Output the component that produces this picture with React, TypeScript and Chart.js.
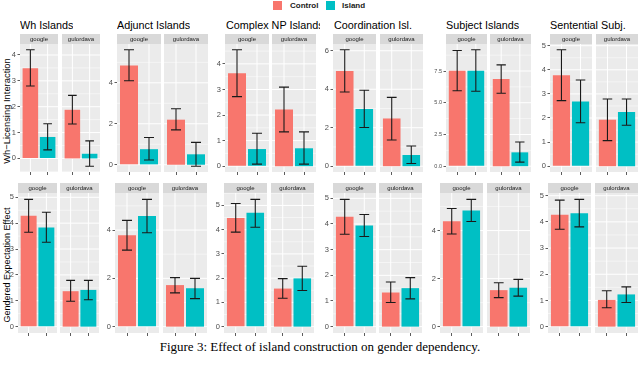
import React, { useEffect, useRef } from "react";
import { Chart, registerables } from "chart.js";
Chart.register(...registerables);

// ---------- data ----------
const FACETS = ["Wh Islands", "Adjunct Islands", "Complex NP Islands", "Coordination Isl.", "Subject Islands", "Sentential Subj."];
const MODELS = ["google", "gulordava"];
const CONDITIONS = ["Control", "Island"];
const ROW_TITLES = ["Wh\u2212Licensing Interaction", "Gendered Expectation Effect"];

// per facet: [google Control, google Island, gulordava Control, gulordava Island]
const WH_MEAN = [
  [3.49, 0.83, 1.88, 0.18],
  [4.84, 0.76, 2.2, 0.51],
  [3.63, 0.67, 2.22, 0.7],
  [4.95, 2.97, 2.48, 0.58],
  [7.53, 7.53, 6.87, 1.09],
  [3.77, 2.68, 1.93, 2.25],
];
const WH_LO = [
  [2.8, 0.33, 1.33, -0.3],
  [4.1, 0.23, 1.7, -0.07],
  [2.72, 0.08, 1.34, 0.08],
  [3.86, 2.01, 1.36, 0.14],
  [5.94, 5.91, 5.75, 0.32],
  [2.72, 1.8, 1.06, 1.7],
];
const WH_HI = [
  [4.2, 1.34, 2.44, 0.68],
  [5.61, 1.33, 2.73, 1.09],
  [4.55, 1.29, 3.09, 1.34],
  [6.05, 3.95, 3.58, 1.05],
  [9.12, 9.17, 7.98, 1.91],
  [4.83, 3.58, 2.79, 2.79],
];
const WH_TICKS = [[0, 1, 2, 3, 4], [0, 2, 4], [0, 1, 2, 3, 4], [0, 2, 4, 6], [0, 2.5, 5, 7.5], [0, 1, 2, 3, 4, 5]];

const GE_MEAN = [
  [4.29, 3.83, 1.37, 1.42],
  [3.78, 4.58, 1.72, 1.59],
  [4.48, 4.7, 1.57, 1.99],
  [4.28, 3.94, 1.33, 1.5],
  [4.39, 4.84, 1.52, 1.62],
  [4.27, 4.33, 1.02, 1.23],
];
const GE_LO = [
  [3.65, 3.26, 0.98, 1.04],
  [3.17, 3.89, 1.4, 1.16],
  [3.9, 4.1, 1.17, 1.49],
  [3.6, 3.51, 0.94, 1.08],
  [3.86, 4.38, 1.21, 1.27],
  [3.72, 3.81, 0.72, 0.92],
];
const GE_HI = [
  [4.92, 4.42, 1.79, 1.79],
  [4.4, 5.27, 2.03, 2.0],
  [5.08, 5.25, 1.98, 2.49],
  [4.96, 4.37, 1.74, 1.91],
  [4.92, 5.3, 1.83, 1.97],
  [4.83, 4.86, 1.37, 1.52],
];
const GE_TICKS = [[0, 1, 2, 3, 4, 5], [0, 2, 4], [0, 1, 2, 3, 4, 5], [0, 1, 2, 3, 4, 5], [0, 2, 4], [0, 1, 2, 3, 4, 5]];

const CAPTION = "Figure 3: Effect of island construction on gender dependency.";

// ---------- style / layout ----------
const CTRL = "#F8766D";
const ISL = "#00BFC4";
const FONT = '"Liberation Sans", Arial, sans-serif';
const STRIP = 10;
const AX = 22;
// [google left, gulordava left, width]
const TOP_X = [[20, 62, 38], [117, 164, 44], [225, 272, 44], [333, 380, 43], [446, 490, 41], [550, 596, 42]];
const BOT_X = [[18, 60, 39], [115, 163, 44], [224, 271, 43], [333, 379, 43], [440, 487, 43], [548, 595, 43]];
const TITLE_X = [20, 117, 226, 334, 446, 550];

function rangeOf(lo: number[], hi: number[]) {
  const a = Math.min(0, ...lo);
  const b = Math.max(0, ...hi);
  const e = (b - a) * 0.05;
  return [a - e, b + e];
}

function minorsOf(ticks: number[], min: number, max: number) {
  const step = ticks[1] - ticks[0];
  const ext = [ticks[0] - step, ...ticks, ticks[ticks.length - 1] + step];
  const out: number[] = [];
  for (let i = 0; i < ext.length - 1; i++) {
    const m = (ext[i] + ext[i + 1]) / 2;
    if (m >= min && m <= max) out.push(m);
  }
  return out;
}

type SubProps = {
  left: number; top: number; w: number; h: number; showY: boolean;
  means: number[]; lo: number[]; hi: number[]; yMin: number; yMax: number;
  ticks: number[]; tickSize: number; decimals: number; strip: string;
};

function SubPanel(p: SubProps) {
  const ref = useRef<HTMLCanvasElement>(null);
  const ax = p.showY ? AX : 0;
  useEffect(() => {
    const minors = minorsOf(p.ticks, p.yMin, p.yMax);
    const plugin = {
      id: "panel" + p.strip,
      beforeDraw(chart: any) {
        const { ctx, chartArea: a, scales } = chart;
        ctx.save();
        ctx.fillStyle = "#EBEBEB";
        ctx.fillRect(a.left, a.top, a.right - a.left, a.bottom - a.top);
        ctx.fillStyle = "#D9D9D9";
        ctx.fillRect(a.left, a.top - STRIP, a.right - a.left, STRIP);
        ctx.fillStyle = "#1A1A1A";
        ctx.font = "6px " + FONT;
        ctx.textAlign = "center";
        ctx.textBaseline = "middle";
        ctx.fillText(p.strip, (a.left + a.right) / 2, a.top - STRIP / 2);
        ctx.strokeStyle = "#FFFFFF";
        ctx.lineWidth = 0.5;
        ctx.beginPath();
        minors.forEach((v) => {
          const y = scales.y.getPixelForValue(v);
          ctx.moveTo(a.left, y);
          ctx.lineTo(a.right, y);
        });
        ctx.stroke();
        ctx.lineWidth = 1;
        ctx.beginPath();
        p.ticks.forEach((v) => {
          const y = scales.y.getPixelForValue(v);
          ctx.moveTo(a.left, y);
          ctx.lineTo(a.right, y);
        });
        [1, 2].forEach((v) => {
          const x = scales.x.getPixelForValue(v);
          ctx.moveTo(x, a.top);
          ctx.lineTo(x, a.bottom);
        });
        ctx.stroke();
        ctx.restore();
      },
      afterDatasetsDraw(chart: any) {
        const { ctx, scales } = chart;
        const meta = chart.getDatasetMeta(0);
        ctx.save();
        ctx.strokeStyle = "#1A1A1A";
        ctx.lineWidth = 1.1;
        meta.data.forEach((el: any, i: number) => {
          const x = el.x;
          const half = (el.width * (0.5 / 0.9)) / 2;
          const y1 = scales.y.getPixelForValue(p.lo[i]);
          const y2 = scales.y.getPixelForValue(p.hi[i]);
          ctx.beginPath();
          ctx.moveTo(x, y1);
          ctx.lineTo(x, y2);
          ctx.moveTo(x - half, y1);
          ctx.lineTo(x + half, y1);
          ctx.moveTo(x - half, y2);
          ctx.lineTo(x + half, y2);
          ctx.stroke();
        });
        ctx.restore();
      },
    };
    const chart = new Chart(ref.current!, {
      type: "bar",
      data: {
        datasets: [
          {
            label: p.strip,
            data: p.means.map((v, i) => ({ x: i + 1, y: v })) as any,
            backgroundColor: [CTRL, ISL],
            borderWidth: 0,
            barPercentage: 0.9,
            categoryPercentage: 1,
          },
        ],
      },
      options: {
        animation: false,
        responsive: false,
        maintainAspectRatio: false,
        devicePixelRatio: 1,
        events: [],
        layout: { padding: { top: STRIP, left: 0, right: 0, bottom: 0 } },
        plugins: { legend: { display: false }, tooltip: { enabled: false } },
        scales: {
          x: {
            type: "linear",
            min: 0.4,
            max: 2.6,
            offset: false,
            grid: { offset: false, drawOnChartArea: false, drawTicks: true, tickLength: 3, tickColor: "#333333", lineWidth: 0.8 },
            border: { display: false },
            ticks: { display: false },
            afterBuildTicks: (s: any) => { s.ticks = [{ value: 1 }, { value: 2 }]; },
            afterFit: (s: any) => { s.height = 4; s.paddingLeft = 0; s.paddingRight = 0; },
          },
          y: {
            type: "linear",
            display: p.showY,
            min: p.yMin,
            max: p.yMax,
            grid: { drawOnChartArea: false, drawTicks: true, tickLength: 2.5, tickColor: "#333333", lineWidth: 0.8 },
            border: { display: false },
            ticks: {
              color: "#4D4D4D",
              padding: 1.5,
              font: { size: p.tickSize, family: FONT },
              callback: (v: any) => Number(v).toFixed(p.decimals),
            },
            afterBuildTicks: (s: any) => { s.ticks = p.ticks.map((v) => ({ value: v })); },
            afterFit: (s: any) => { s.width = ax; s.paddingTop = 0; s.paddingBottom = 0; },
          },
        },
      } as any,
      plugins: [plugin],
    });
    return () => chart.destroy();
  }, []);
  const cw = ax + p.w;
  const ch = STRIP + p.h + 4;
  return (
    <canvas
      ref={ref}
      width={cw}
      height={ch}
      style={{ position: "absolute", left: p.left - ax, top: p.top - STRIP, width: cw, height: ch }}
    />
  );
}

function Row(props: { row: number }) {
  const isTop = props.row === 0;
  const mean = isTop ? WH_MEAN : GE_MEAN;
  const lo = isTop ? WH_LO : GE_LO;
  const hi = isTop ? WH_HI : GE_HI;
  const ticks = isTop ? WH_TICKS : GE_TICKS;
  const xs = isTop ? TOP_X : BOT_X;
  const top = isTop ? 44 : 193;
  const h = isTop ? 128 : 140;
  const out: any[] = [];
  FACETS.forEach((f, fi) => {
    const [yMin, yMax] = rangeOf(lo[fi], hi[fi]);
    const decimals = ticks[fi].some((t) => t % 1 !== 0) ? 1 : 0;
    const tickSize = isTop && fi === 4 ? 5.5 : 7.5;
    MODELS.forEach((m, mi) => {
      out.push(
        <SubPanel
          key={props.row + "-" + fi + "-" + mi}
          left={xs[fi][mi]}
          top={top}
          w={xs[fi][2]}
          h={h}
          showY={mi === 0}
          means={mean[fi].slice(mi * 2, mi * 2 + 2)}
          lo={lo[fi].slice(mi * 2, mi * 2 + 2)}
          hi={hi[fi].slice(mi * 2, mi * 2 + 2)}
          yMin={yMin}
          yMax={yMax}
          ticks={ticks[fi]}
          tickSize={tickSize}
          decimals={decimals}
          strip={m}
        />
      );
    });
  });
  return <>{out}</>;
}

export default function App() {
  return (
    <div style={{ position: "fixed", left: 0, top: 0, width: 640, height: 367, background: "#FFFFFF", overflow: "hidden", fontFamily: FONT }}>
      {/* legend */}
      <div style={{ position: "absolute", left: 273, top: 1, width: 9, height: 9, background: CTRL }} />
      <div style={{ position: "absolute", left: 290, top: 0, fontSize: 8, lineHeight: "11px", fontWeight: "bold", color: "#1A1A1A" }}>{CONDITIONS[0]}</div>
      <div style={{ position: "absolute", left: 326, top: 1, width: 9, height: 9, background: ISL }} />
      <div style={{ position: "absolute", left: 342, top: 0, fontSize: 8, lineHeight: "11px", fontWeight: "bold", color: "#1A1A1A" }}>{CONDITIONS[1]}</div>
      {/* facet titles */}
      {FACETS.map((f, i) => (
        <div
          key={f}
          style={{
            position: "absolute",
            left: TITLE_X[i],
            top: 20,
            fontSize: 10.8,
            lineHeight: 1,
            whiteSpace: "nowrap",
            color: "#000",
            overflow: "hidden",
            width: i === 2 ? 94 : undefined,
          }}
        >
          {f}
        </div>
      ))}
      {/* row titles */}
      {ROW_TITLES.map((t, i) => (
        <div
          key={t}
          style={{
            position: "absolute",
            left: 7,
            top: i === 0 ? 111 : 265,
            transform: "translate(-50%, -50%) rotate(-90deg)",
            fontSize: i === 0 ? 9.4 : 9,
            lineHeight: 1,
            whiteSpace: "nowrap",
            color: "#000",
          }}
        >
          {t}
        </div>
      ))}
      <Row row={0} />
      <Row row={1} />
      <div
        style={{
          position: "absolute",
          left: 0,
          width: 640,
          top: 339,
          textAlign: "center",
          fontFamily: '"Liberation Serif", "Times New Roman", serif',
          fontSize: 13,
          color: "#000",
        }}
      >
        {CAPTION}
      </div>
    </div>
  );
}
